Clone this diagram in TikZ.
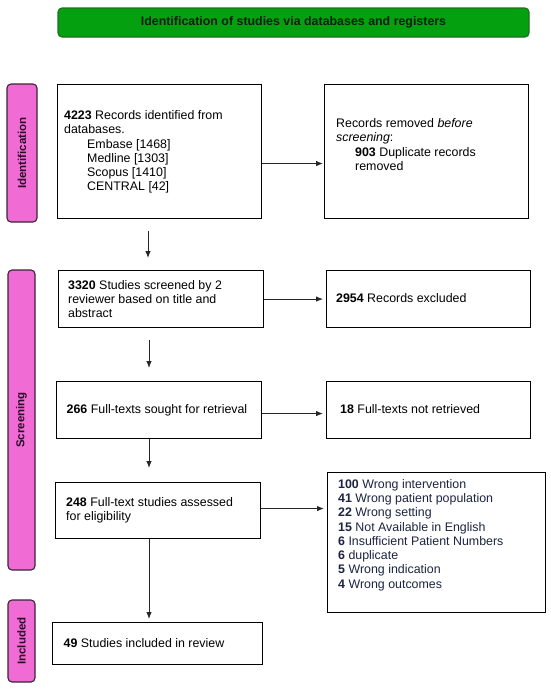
\documentclass[tikz,border=0pt]{standalone}
\usepackage{fontspec}
\setmainfont{Liberation Sans}
\usetikzlibrary{arrows.meta,calc}
\definecolor{gfill}{HTML}{05A010}
\definecolor{gdraw}{HTML}{1E6E1E}
\definecolor{gtext}{HTML}{0E1E0E}
\definecolor{pfill}{HTML}{F06CD4}
\definecolor{pdraw}{HTML}{3A2434}
\definecolor{ptext}{HTML}{2A0A26}
\definecolor{navy}{HTML}{1C2440}
\begin{document}
\begin{tikzpicture}[x=1pt,y=-1pt,
  font=\fontsize{12.4}{14.3}\selectfont,
  box/.style={draw=black, line width=1.1pt, fill=white, inner sep=0pt, anchor=north west},
  txt/.style={anchor=west, inner sep=0pt, align=left},
  lab/.style={draw=pdraw, fill=pfill, line width=1.1pt, rounded corners=4pt, rotate=90, inner sep=0pt,
              font=\fontsize{11.5}{14}\selectfont\bfseries, text=ptext},
  arr/.style={draw=black!85, line width=0.9pt, -{Latex[length=7pt,width=5.5pt]}}]
\useasboundingbox (0,0) rectangle (550,689);

% title
\node[draw=gdraw, fill=gfill, line width=1.1pt, rounded corners=4pt, minimum width=471pt, minimum height=29pt,
      inner sep=0pt, text=gtext, font=\fontsize{12.4}{14.3}\selectfont\bfseries] (title) at (293.5,22.5)
      {Identification of studies via databases and registers};

% phase labels
\node[lab, minimum width=138pt, minimum height=30pt] (lid) at (22,153) {Identification};
\node[lab, minimum width=300pt, minimum height=27pt] (lsc) at (21.5,420) {Screening};
\node[lab, minimum width=82pt, minimum height=27pt] (lin) at (21.5,641) {Included};

% boxes
\node[box, minimum width=204pt, minimum height=134pt] (b1) at (57,84) {};
\node[box, minimum width=204pt, minimum height=134pt] (rem) at (324,84) {};
\node[box, minimum width=205pt, minimum height=57pt] (s1) at (57.5,270) {};
\node[box, minimum width=204pt, minimum height=57pt] (ex1) at (326,270) {};
\node[box, minimum width=205.5pt, minimum height=57pt] (s2) at (55.5,381) {};
\node[box, minimum width=204pt, minimum height=57pt] (ex2) at (326,381) {};
\node[box, minimum width=205pt, minimum height=56pt] (s3) at (55,482) {};
\node[box, minimum width=218pt, minimum height=140pt] (ex3) at (327,472) {};
\node[box, minimum width=210pt, minimum height=42pt] (inc) at (52,622) {};

% texts
\node[txt] (b1t) at (64,152)
  {\textbf{4223} Records identified from\\databases.\\
   \hspace*{23pt}Embase [1468]\\\hspace*{23pt}Medline [1303]\\\hspace*{23pt}Scopus [1410]\\\hspace*{23pt}CENTRAL [42]};
\node[txt] (remt) at (336,144.5)
  {Records removed \textit{before}\\\textit{screening}:\\
   \hspace*{19pt}\textbf{903} Duplicate records\\\hspace*{19pt}removed};
\node[txt] (s1t) at (68,299)
  {\textbf{3320} Studies screened by 2\\reviewer based on title and\\abstract};
\node[txt] (ex1t) at (336,298.5) {\textbf{2954} Records excluded};
\node[txt] (s2t) at (66.5,410) {\textbf{266} Full-texts sought for retrieval};
\node[txt] (ex2t) at (340,409.5) {\textbf{18} Full-texts not retrieved};
\node[txt] (s3t) at (66,510) {\textbf{248} Full-text studies assessed\\for eligibility};
\node[anchor=north west, inner sep=0pt, align=left, text=navy] (ex3t) at (338,479)
  {\textbf{100} Wrong intervention\\
   \textbf{41} Wrong patient population\\
   \textbf{22} Wrong setting\\
   \textbf{15} Not Available in English\\
   \textbf{6} Insufficient Patient Numbers\\
   \textbf{6} duplicate\\
   \textbf{5} Wrong indication\\
   \textbf{4} Wrong outcomes};
\node[txt] (inct) at (63.5,643) {\textbf{49} Studies included in review};

% connectors
\coordinate (ca) at (148,0);
\coordinate (cb) at (149,0);
\draw[arr, shorten >=1pt] ([yshift=-12pt]b1.east) -- ([yshift=-12pt]b1.east -| rem.west);
\draw[arr, shorten <=12pt, shorten >=12pt] (b1.south -| ca) -- (s1.north -| ca);
\draw[arr, shorten >=3pt] (s1.east) -- (s1.east -| ex1.west);
\draw[arr, shorten <=12pt, shorten >=13pt] (s1.south -| cb) -- (s2.north -| cb);
\draw[arr, shorten >=3pt] ([yshift=-3.5pt]s2.east) -- ([yshift=-3.5pt]s2.east -| ex2.west);
\draw[arr, shorten >=14pt] (s2.south -| cb) -- (s3.north -| cb);
\draw[arr, shorten >=3pt] ([yshift=2pt]s3.east) -- ([yshift=2pt]s3.east -| ex3.west);
\draw[arr, shorten >=3pt] (s3.south -| cb) -- (inc.north -| cb);
\end{tikzpicture}
\end{document}
